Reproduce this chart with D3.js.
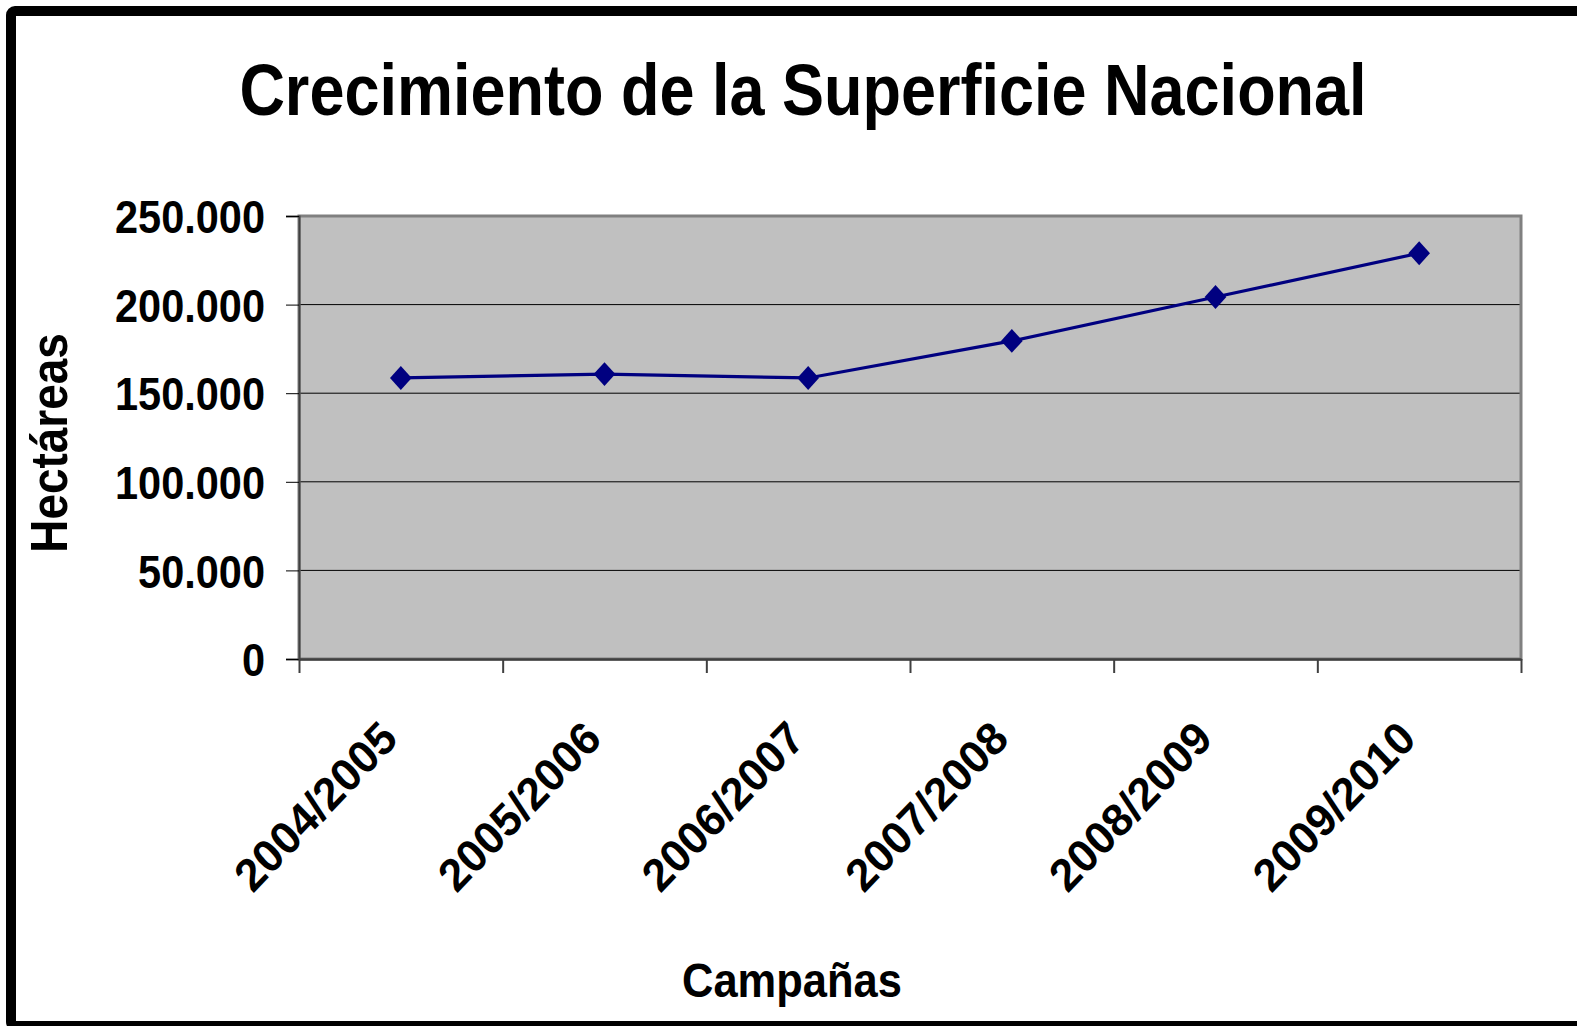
<!DOCTYPE html>
<html>
<head>
<meta charset="utf-8">
<script src="https://cdn.jsdelivr.net/npm/d3@7"></script>
<style>
  html, body { margin: 0; padding: 0; background: #fff; overflow: hidden; }
  svg { display: block; font-family: "Liberation Sans", Arial, sans-serif; font-weight: bold; }
</style>
</head>
<body>
<svg id="chart"></svg>
<script>
const campaigns = ["2004/2005", "2005/2006", "2006/2007", "2007/2008", "2008/2009", "2009/2010"];
const hectares = [158600, 160800, 158600, 179500, 204300, 229000];
const yTicks = [0, 50000, 100000, 150000, 200000, 250000];

const width = 1577;
const height = 1026;
const margin = { top: 216, right: 56, bottom: 367, left: 299 };
const innerWidth = width - margin.left - margin.right;
const innerHeight = height - margin.top - margin.bottom;

const svg = d3.select("#chart").attr("width", width).attr("height", height);

// outer frame (runs off the right side of the picture)
svg.append("rect")
  .attr("x", 11).attr("y", 11)
  .attr("width", 1600).attr("height", 1015)
  .attr("rx", 4)
  .attr("fill", "#fff")
  .attr("stroke", "#000")
  .attr("stroke-width", 10);

svg.append("text")
  .attr("transform", "translate(803, 115) scale(1, 1.14)")
  .attr("text-anchor", "middle")
  .attr("font-size", 63)
  .text("Crecimiento de la Superficie Nacional");

const chart = svg.append("g")
  .attr("transform", `translate(${margin.left}, ${margin.top})`);

const xscale = d3.scaleBand().domain(campaigns).range([0, innerWidth]);
const xedge = d3.scaleLinear().domain([0, campaigns.length]).range([0, innerWidth]);
const yscale = d3.scaleLinear().domain([0, 250000]).range([innerHeight, 0]);

const locale = d3.formatLocale({ decimal: ",", thousands: ".", grouping: [3], currency: ["", ""] });
const fmt = locale.format(",");

// plot background
chart.append("rect")
  .attr("width", innerWidth).attr("height", innerHeight)
  .attr("fill", "#c0c0c0");

// gridlines
chart.append("g")
  .selectAll("line")
  .data(yTicks.slice(1, -1))
  .join("line")
  .attr("x1", 0).attr("x2", innerWidth)
  .attr("y1", (d) => yscale(d)).attr("y2", (d) => yscale(d))
  .attr("stroke", "#000").attr("stroke-width", 1);

// plot border
chart.append("rect")
  .attr("width", innerWidth).attr("height", innerHeight)
  .attr("fill", "none")
  .attr("stroke", "#808080").attr("stroke-width", 3);

// y axis
const yaxis_group = chart.append("g")
  .call(d3.axisLeft(yscale).tickValues(yTicks).tickFormat(fmt).tickSize(13).tickPadding(21));
yaxis_group.select(".domain").attr("stroke", "#404040").attr("stroke-width", 2);
yaxis_group.selectAll(".tick line").attr("stroke", "#000").attr("stroke-width", 1);
yaxis_group.selectAll("text")
  .attr("font-size", 41.5).attr("font-family", "Liberation Sans, Arial, sans-serif")
  .attr("font-weight", "bold").attr("fill", "#000").attr("dy", "0.36em")
  .attr("transform", "scale(1, 1.12)");

// x axis tick marks at category boundaries
const xedge_group = chart.append("g")
  .attr("transform", `translate(0, ${innerHeight})`)
  .call(d3.axisBottom(xedge).tickValues(d3.range(campaigns.length + 1)).tickSize(14).tickSizeOuter(0));
xedge_group.selectAll("text").remove();
xedge_group.select(".domain").attr("stroke", "#404040").attr("stroke-width", 2.5);
xedge_group.selectAll(".tick line").attr("stroke", "#404040").attr("stroke-width", 2);

// x axis labels
const xaxis_group = chart.append("g")
  .attr("transform", `translate(0, ${innerHeight})`)
  .call(d3.axisBottom(xscale).tickSize(0));
xaxis_group.select(".domain").remove();
xaxis_group.selectAll("text")
  .attr("font-size", 44).attr("font-family", "Liberation Sans, Arial, sans-serif")
  .attr("font-weight", "bold").attr("fill", "#000")
  .attr("x", 0).attr("y", 0).attr("dy", 0)
  .attr("text-anchor", "end")
  .attr("transform", "translate(-1, 82) scale(1, 1.04) rotate(-45)");

// series line
const line = d3.line()
  .x((d, i) => xscale(campaigns[i]) + xscale.bandwidth() / 2)
  .y((d) => yscale(d));

chart.append("path")
  .datum(hectares)
  .attr("d", line)
  .attr("fill", "none")
  .attr("stroke", "#000080")
  .attr("stroke-width", 3.2);

chart.selectAll(".marker")
  .data(hectares)
  .join("path")
  .attr("class", "marker")
  .attr("d", d3.symbol().type(d3.symbolDiamond2).size(300))
  .attr("transform", (d, i) => `translate(${xscale(campaigns[i]) + xscale.bandwidth() / 2}, ${yscale(d)}) scale(1, 1.1)`)
  .attr("fill", "#000080");

// axis titles
svg.append("text")
  .attr("transform", "translate(67, 443) rotate(-90) scale(1.02, 1.14)")
  .attr("text-anchor", "middle")
  .attr("font-size", 45)
  .text("Hectáreas");

svg.append("text")
  .attr("transform", "translate(792, 997) scale(1, 1.12)")
  .attr("text-anchor", "middle")
  .attr("font-size", 43.5)
  .text("Campañas");
</script>
</body>
</html>
